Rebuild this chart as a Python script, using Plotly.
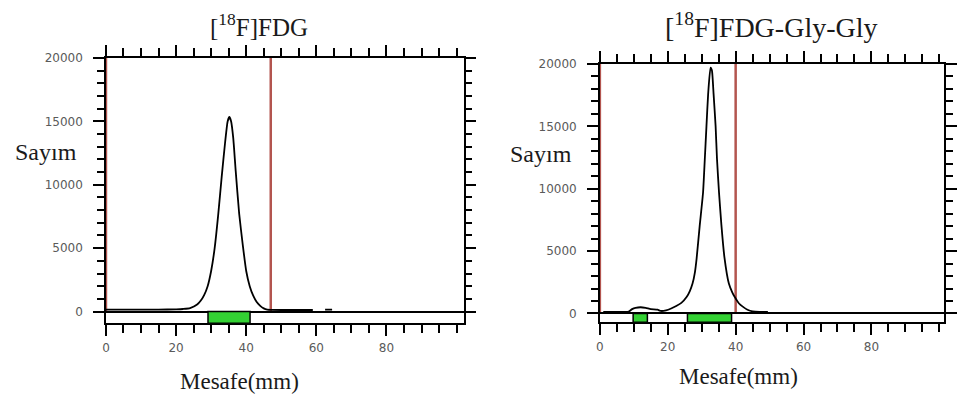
import plotly.graph_objects as go

# Radio-TLC scans: distance along the strip (mm) vs. detector counts
fdg_distance_mm = [0, 5, 10, 15, 20, 22, 24, 26, 27, 28, 29, 30, 31, 32, 33, 34,
                   34.7, 35.2, 35.7, 36.3, 37, 38, 39, 40, 41, 42, 43, 44, 45, 46,
                   47, 50, 55, 59, 61, 62.5, 64.5]
fdg_counts = [150, 150, 150, 150, 170, 200, 270, 550, 850, 1300, 2000, 3200, 5000,
              7600, 10600, 13400, 15000, 15350, 15000, 13700, 11100, 7700, 5300,
              3200, 2000, 1250, 750, 450, 250, 150, 130, 120, 120, 120, None, 150, 150]

gly_distance_mm = [1, 5, 8.5, 9.5, 10.5, 12, 13.5, 15, 17, 18, 19.5, 21, 22.5, 24,
                   25.6, 26.5, 27.3, 28, 28.5, 29.4, 30.4, 30.9, 31.4, 31.9, 32.6,
                   33.0, 33.5, 34.1, 34.5, 35.1, 35.8, 36.7, 38.0, 39.0, 39.7, 41,
                   42.1, 43.5, 45, 47, 49.5]
gly_counts = [120, 120, 150, 350, 450, 500, 450, 350, 300, 200, 250, 400, 600, 850,
              1340, 1800, 2400, 3300, 4400, 7000, 9700, 12300, 15000, 17600, 19700,
              19500, 17600, 15000, 12400, 9700, 7100, 4500, 2400, 1700, 1340, 800,
              550, 300, 160, 120, 120]

# Integration regions (green bars) and origin / front markers (red lines), in mm
fdg_regions_mm = [(29.1, 41.1)]
gly_regions_mm = [(9.8, 14.0), (25.8, 38.8)]
fdg_markers_mm = [0, 47]
gly_markers_mm = [0, 40]

x_major_ticks = [0, 20, 40, 60, 80]
x_tick_labels = ["0", "20", "40", "60", "80"]
y_major_ticks = [0, 5000, 10000, 15000, 20000]
y_tick_labels = ["0", "5000", "10000", "15000", "20000"]

SERIF = "Liberation Serif, Times New Roman, serif"
TICK_FONT = dict(family="DejaVu Sans, Arial, sans-serif", size=12, color="#5a5a5a")
RED = "#b3554f"
GREEN = "#33d133"

W, H = 957, 396

panels = [
    # plot area in pixels: left, right, top, bottom; axis ranges
    dict(x=fdg_distance_mm, y=fdg_counts, regions=fdg_regions_mm, markers=fdg_markers_mm,
         px=(102.5, 462, 52, 322), xr=[0, 102], yr=[-930, 20000],
         title="[<sup>18</sup>F]FDG", title_xy=(256, 18), title_size=25,
         ylab_xy=(42, 148), xlab_xy=(237, 381)),
    dict(x=gly_distance_mm, y=gly_counts, regions=gly_regions_mm, markers=gly_markers_mm,
         px=(599, 945, 58, 321), xr=[0, 101.4], yr=[-710, 20000],
         title="[<sup>18</sup>F]FDG-Gly-Gly", title_xy=(771, 19), title_size=28,
         ylab_xy=(540, 150), xlab_xy=(738, 376)),
]

fig = go.Figure()
layout = dict(width=W, height=H, margin=dict(l=0, r=0, t=0, b=0),
              paper_bgcolor="white", plot_bgcolor="white", showlegend=False)
shapes, annotations = [], []

common_x = dict(showgrid=False, zeroline=False, showline=True, mirror="allticks",
                linecolor="black", linewidth=1.5, ticks="outside", tickcolor="black",
                tickwidth=2, ticklen=11, tickmode="array", tickvals=x_major_ticks,
                ticktext=x_tick_labels, ticklabelstandoff=2,
                minor=dict(dtick=5, tick0=0, ticks="outside", ticklen=8,
                           tickwidth=2, tickcolor="black", showgrid=False),
                tickfont=TICK_FONT, fixedrange=True)
common_y = dict(showgrid=False, showline=True, mirror="allticks", linecolor="black",
                linewidth=1.5, ticks="outside", tickcolor="black", tickwidth=2,
                ticklen=11, tickmode="array", tickvals=y_major_ticks,
                ticktext=y_tick_labels, ticklabelstandoff=8,
                minor=dict(dtick=1000, tick0=0, ticks="outside", ticklen=7,
                           tickwidth=2, tickcolor="black", showgrid=False),
                tickfont=TICK_FONT, fixedrange=True)

for i, p in enumerate(panels):
    n = i + 1
    xa = "x" if n == 1 else f"x{n}"
    ya = "y" if n == 1 else f"y{n}"
    left, right, top, bottom = p["px"]
    xdom = [left / W, right / W]
    ydom = [1 - bottom / H, 1 - top / H]

    layout["xaxis" if n == 1 else f"xaxis{n}"] = dict(
        common_x, domain=xdom, anchor=ya, range=p["xr"])
    layout["yaxis" if n == 1 else f"yaxis{n}"] = dict(
        common_y, domain=ydom, anchor=xa, range=p["yr"],
        zeroline=True, zerolinecolor="black", zerolinewidth=2)

    # green integration bars in the strip below zero
    for a, b in p["regions"]:
        shapes.append(dict(type="rect", xref=xa, yref=ya, x0=a, x1=b,
                           y0=p["yr"][0], y1=0, fillcolor=GREEN,
                           line=dict(color="black", width=1.5), layer="above"))
    # red origin / front lines
    for m in p["markers"]:
        shapes.append(dict(type="line", xref=xa, yref=ya, x0=m, x1=m,
                           y0=0, y1=p["yr"][1], line=dict(color=RED, width=2.5),
                           layer="below"))

    fig.add_trace(go.Scatter(x=p["x"], y=p["y"], mode="lines", xaxis=xa, yaxis=ya,
                             line=dict(color="black", width=1.8, shape="spline",
                                       smoothing=0.5),
                             connectgaps=False, hoverinfo="skip"))

    annotations += [
        dict(text=p["title"], x=p["title_xy"][0] / W, y=1 - p["title_xy"][1] / H,
             xref="paper", yref="paper", showarrow=False, xanchor="center",
             yanchor="middle", font=dict(family=SERIF, size=p["title_size"], color="#1a1a1a")),
        dict(text="Sayım", x=p["ylab_xy"][0] / W, y=1 - p["ylab_xy"][1] / H,
             xref="paper", yref="paper", showarrow=False, xanchor="center",
             yanchor="middle", font=dict(family=SERIF, size=24, color="#1a1a1a")),
        dict(text="Mesafe(mm)", x=p["xlab_xy"][0] / W, y=1 - p["xlab_xy"][1] / H,
             xref="paper", yref="paper", showarrow=False, xanchor="center",
             yanchor="middle", font=dict(family=SERIF, size=23, color="#1a1a1a")),
    ]

layout["shapes"] = shapes
layout["annotations"] = annotations
fig.update_layout(**layout)
fig.write_html("out.html")
